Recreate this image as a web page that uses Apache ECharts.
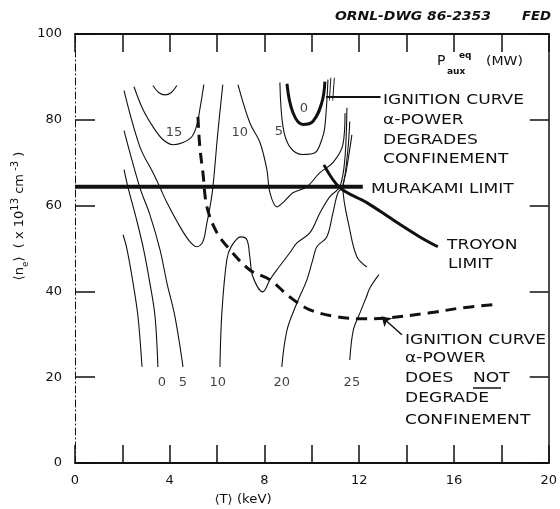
<!DOCTYPE html>
<html><head><meta charset="utf-8">
<script src="https://cdn.jsdelivr.net/npm/echarts@6/dist/echarts.min.js"></script>
<style>html,body{margin:0;padding:0;background:#fff}#c{width:560px;height:509px}</style>
</head><body><div id="c"></div>
<script>
// ---- axis ticks ----
const xTicks = [0, 4, 8, 12, 16, 20];
const yTicks = [0, 20, 40, 60, 80, 100];

// ---- contour lines of P_aux^eq (MW), [T keV, n_e 1e13 cm^-3] ----
const contourA = [[2.03,53.2],[2.2,49.7],[2.45,42.0],[2.66,34.1],[2.83,22.4]];
const contourB = [[2.07,68.4],[2.24,64.2],[2.6,56.7],[2.9,49.7],[3.16,42.0],[3.38,34.1],[3.5,22.4]];
const contourC = [[2.07,77.5],[2.74,64.2],[3.16,57.9],[3.59,49.7],[3.88,42.0],[4.22,34.1],[4.56,22.4]];
const contourV = [[2.07,86.8],[2.74,73.7],[3.29,67.7],[3.59,64.2],[3.88,60.7],[4.43,55.1],[4.85,51.6],[5.15,50.4],[5.40,51.6],[5.57,56.0],[5.70,59.7],[5.82,64.2],[6.03,77.0],[6.24,88.2]];
const contour15 = [[2.49,87.7],[2.87,82.4],[3.29,78.4],[3.71,75.4],[4.14,74.2],[4.56,74.7],[4.94,76.1],[5.15,78.9],[5.27,82.4],[5.44,88.2]];
const contourTop = [[3.29,88.0],[3.55,86.3],[3.80,85.8],[4.05,86.3],[4.30,88.0]];
const contour10Low = [[6.12,22.4],[6.20,35.0],[6.41,47.4],[6.6,50.5],[7.0,52.7],[7.26,52.0],[7.38,48.1],[7.51,43.4],[7.93,39.9],[8.23,42.7],[8.52,45.0],[9.07,49.0],[9.37,51.3],[9.92,53.7],[10.34,58.3],[10.76,62.1],[11.18,64.4],[11.39,70.7],[11.48,82.8]];
const contour20 = [[8.73,22.4],[8.95,31.0],[9.37,37.3],[9.79,42.7],[10.04,47.4],[10.21,50.4],[10.63,52.7],[10.89,58.3],[11.10,63.0],[11.31,64.4],[11.52,73.0],[11.60,79.6]];
const contour25 = [[11.6,24.0],[11.75,31.0],[12.03,35.0],[12.3,38.7],[12.45,40.8],[12.83,43.9]];
const contourRight = [[11.69,76.5],[11.45,68.0],[11.31,64.4],[11.60,54.4],[11.90,48.1],[12.32,45.7]];
const contour10Up = [[6.88,88.2],[7.38,79.3],[7.81,74.7],[8.10,68.4],[8.23,63.0],[8.52,59.7],[8.78,60.7],[9.20,63.0],[9.79,64.4],[10.34,67.7],[10.89,70.0],[11.31,74.2],[11.40,81.5]];
const contour5 = [[8.65,88.7],[8.78,78.4],[9.07,73.7],[9.62,71.9],[10.13,72.3],[10.42,75.4],[10.55,78.4],[10.68,89.4]];
const contourShort1 = [[10.80,89.8],[10.74,84.5]];
const contourShort2 = [[10.95,89.8],[10.88,84.5]];

// ---- labelled curves ----
const ignitionDegrades = [[8.95,88.4],[9.20,81.7],[9.62,78.9],[10.04,79.6],[10.42,84.0],[10.55,88.9]];
const ignitionNoDegrade = [[5.19,80.7],[5.27,73.7],[5.40,67.7],[5.57,59.7],[5.99,53.7],[6.54,49.7],[7.38,45.0],[8.23,42.7],[9.07,38.7],[9.92,35.7],[11.05,34.1],[12.15,33.6],[13.16,33.8],[14.98,35.0],[16.37,36.2],[17.64,36.9]];
const murakamiLimit = [[0,64.4],[12.15,64.4]];
const troyonLimit = [[10.51,69.5],[11.18,64.2],[12.32,60.7],[13.42,56.7],[14.56,52.7],[15.32,50.4]];
const leaderUpper = [[10.6,85.4],[12.9,85.4]];
const leaderLower = [[13.8,29.9],[12.95,34.1]];

// ---- contour value labels ----
const contourLabels = [
  {name:'15', value:[4.18,77.0]},
  {name:'10', value:[6.96,77.0]},
  {name:'5',  value:[8.61,77.2]},
  {name:'0',  value:[9.66,82.6]},
  {name:'0',  value:[3.67,18.7]},
  {name:'5',  value:[4.56,18.7]},
  {name:'10', value:[6.03,18.7]},
  {name:'20', value:[8.73,18.7]},
  {name:'25', value:[11.69,18.7]}
];

const INK = '#111';
const chart = echarts.init(document.getElementById('c'), null, {renderer:'canvas'});

function thin(data, w) {
  return {type:'line', data:data, showSymbol:false, symbol:'none', smooth:0.35,
    lineStyle:{color:INK, width:w||1.1}, silent:true, z:3};
}

const LF = 'DejaVu Sans';
function txt(x, y, s, size, sx) {
  return {type:'text', x:x, y:y, scaleX:sx||1.22,
    style:{text:s, font:(size||14)+'px "'+LF+'"', fill:INK, textAlign:'left',
      verticalAlign:'middle', textVerticalAlign:'middle'}};
}

const annotations = [
  ['IGNITION CURVE', 383, 100], ['\u03b1-POWER', 383, 120], ['DEGRADES', 383, 140], ['CONFINEMENT', 383, 159],
  ['MURAKAMI LIMIT', 371, 189],
  ['TROYON', 447, 245], ['LIMIT', 448, 264],
  ['IGNITION CURVE', 405, 340], ['\u03b1-POWER', 405, 358], ['DOES', 405, 378], ['NOT', 473, 378], ['DEGRADE', 405, 398], ['CONFINEMENT', 405, 420]
];

const graphics = annotations.map(a => txt(a[1], a[2], a[0], 14));
graphics.push({type:'line', shape:{x1:473, y1:388, x2:501, y2:388}, style:{stroke:INK, lineWidth:1.5}});
graphics.push({type:'text', x:335, y:17, scaleX:1.16, style:{text:'ORNL-DWG 86-2353', font:'italic bold 12px "'+LF+'"', fill:INK, verticalAlign:'middle', textVerticalAlign:'middle'}});
graphics.push({type:'text', x:522, y:17, scaleX:1.1, style:{text:'FED', font:'italic bold 12px "'+LF+'"', fill:INK, verticalAlign:'middle', textVerticalAlign:'middle'}});
// P_aux^eq (MW)
graphics.push({type:'text', x:437, y:61, style:{text:'P', font:'14px "'+LF+'"', fill:INK, verticalAlign:'middle', textVerticalAlign:'middle'}});
graphics.push({type:'text', x:447, y:72, style:{text:'aux', font:'bold 9px "'+LF+'"', fill:INK, verticalAlign:'middle', textVerticalAlign:'middle'}});
graphics.push({type:'text', x:459, y:56, style:{text:'eq', font:'bold 9px "'+LF+'"', fill:INK, verticalAlign:'middle', textVerticalAlign:'middle'}});
graphics.push({type:'text', x:486, y:62, scaleX:1.08, style:{text:'(MW)', font:'13px "'+LF+'"', fill:INK, verticalAlign:'middle', textVerticalAlign:'middle'}});
// x axis name
graphics.push({type:'text', x:243, y:500, scaleX:1.1, style:{text:'\u27e8T\u27e9 (keV)', font:'12px "'+LF+'"', fill:INK, textAlign:'center', verticalAlign:'middle', textVerticalAlign:'middle'}});
// y axis name (rotated)
graphics.push({type:'text', x:20, y:216, rotation:Math.PI/2,
  style:{text:'{a|\u27e8n}{sub|e}{a|\u27e9  ( x 10}{sup|13}{a| cm}{sup| -3}{a| )}',
    textAlign:'center', verticalAlign:'middle', textVerticalAlign:'middle', fill:INK,
    rich:{
      a:{font:'13px "'+LF+'"', fill:INK, lineHeight:20, verticalAlign:'middle'},
      sub:{font:'9px "'+LF+'"', fill:INK, lineHeight:20, verticalAlign:'bottom'},
      sup:{font:'10px "'+LF+'"', fill:INK, lineHeight:20, verticalAlign:'top'}
    }}});

const tickCommon = {show:true, inside:true, length:18, lineStyle:{color:INK, width:1.5}};

const option = {
  backgroundColor:'#fff',
  animation:false,
  grid:{left:75, right:11, top:34, bottom:46},
  xAxis:[
    {type:'value', min:0, max:20, interval:2, position:'bottom',
     axisLine:{show:true, onZero:false, lineStyle:{color:INK, width:2}},
     axisTick:tickCommon,
     axisLabel:{margin:11, color:INK, fontSize:13, fontFamily:LF,
       formatter:v => xTicks.indexOf(v) >= 0 ? String(v) : ''},
     splitLine:{show:false}},
    {type:'value', min:0, max:20, interval:2, position:'top',
     axisLine:{show:true, onZero:false, lineStyle:{color:INK, width:2}},
     axisTick:tickCommon, axisLabel:{show:false}, splitLine:{show:false}}
  ],
  yAxis:[
    {type:'value', min:0, max:100, interval:20, position:'left',
     axisLine:{show:true, onZero:false, lineStyle:{color:INK, width:1, type:[7,3,1,3]}},
     axisTick:Object.assign({}, tickCommon, {length:20}),
     axisLabel:{margin:13, color:INK, fontSize:13, fontFamily:LF,
       formatter:v => yTicks.indexOf(v) >= 0 ? String(v) : ''},
     splitLine:{show:false}},
    {type:'value', min:0, max:100, interval:20, position:'right',
     axisLine:{show:true, onZero:false, lineStyle:{color:INK, width:1.5}},
     axisTick:Object.assign({}, tickCommon, {length:19}), axisLabel:{show:false}, splitLine:{show:false}}
  ],
  series:[
    thin(contourA), thin(contourB), thin(contourC), thin(contourV), thin(contour15), thin(contourTop),
    thin(contour10Low), thin(contour20), thin(contour25), thin(contourRight), thin(contour10Up),
    thin(contour5), thin(contourShort1, 1), thin(contourShort2, 1),
    {type:'line', data:ignitionDegrades, showSymbol:false, symbol:'none', smooth:0.4, z:4,
     lineStyle:{color:INK, width:3}},
    {type:'line', data:ignitionNoDegrade, showSymbol:false, symbol:'none', smooth:0.35, z:4,
     lineStyle:{color:INK, width:3, type:[11,7]}},
    {type:'line', data:murakamiLimit, showSymbol:false, symbol:'none', z:5,
     lineStyle:{color:INK, width:4}},
    {type:'line', data:troyonLimit, showSymbol:false, symbol:'none', smooth:0.35, z:5,
     lineStyle:{color:INK, width:3}},
    {type:'lines', coordinateSystem:'cartesian2d', z:5, symbol:['none','none'],
     lineStyle:{color:INK, width:2, opacity:1}, data:[{coords:leaderUpper}]},
    {type:'lines', coordinateSystem:'cartesian2d', z:5, symbol:['none','arrow'], symbolSize:9,
     lineStyle:{color:INK, width:1.5, opacity:1}, data:[{coords:leaderLower}]},
    {type:'scatter', data:contourLabels, symbolSize:0, z:6,
     label:{show:true, position:'inside', formatter:p => p.name, color:INK, fontSize:13, fontFamily:LF}}
  ],
  graphic:graphics
};
chart.setOption(option);
</script>
</body></html>
